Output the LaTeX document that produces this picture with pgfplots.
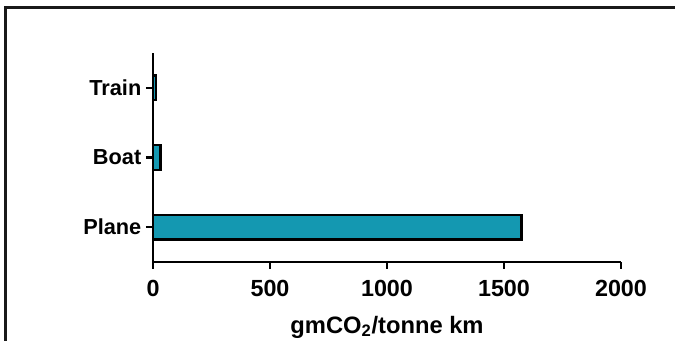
\documentclass[border=0pt]{standalone}
\usepackage{pgfplots}
\pgfplotsset{compat=1.18}
\usepackage{fontspec}
\setmainfont{Liberation Sans}
\definecolor{barteal}{RGB}{20,152,177}
\begin{document}
\begin{tikzpicture}
\path[use as bounding box] (0,0) rectangle (506.25pt,-255.75pt);
\draw[line width=2.2pt, color=black!90] (4.1pt,-260pt) -- (4.1pt,-5.6pt) -- (506.25pt,-5.6pt);
\begin{axis}[
  at={(114.75pt,-196.5pt)}, anchor=south west,
  scale only axis,
  width=351pt, height=156.75pt,
  xmin=0, xmax=2000, ymin=-0.5, ymax=2.5,
  axis x line=bottom, axis y line=left,
  axis line style={-, line width=1.9pt, black},
  xtick={0,500,1000,1500,2000},
  ytick={0,1,2},
  yticklabels={Plane,Boat,Train},
  tick align=outside,
  major tick length=5.25pt,
  tick style={line width=1.9pt, black},
  /pgf/number format/assume math mode=true,
  /pgf/number format/1000 sep={},
  scaled x ticks=false,
  xticklabel style={font=\bfseries\fontsize{17.5}{20}\selectfont, yshift=-5pt},
  yticklabel style={font=\bfseries\fontsize{16.3}{19}\selectfont},
  xlabel={gmCO\textsubscript{2}/tonne km},
  xlabel style={font=\bfseries\fontsize{17.8}{20}\selectfont, at={(axis description cs:0.5,0)}, anchor=base, yshift=-53.5pt},
  xbar, bar width=18.4pt,
  clip=false,
]
\addplot[fill=barteal, draw=black, line width=1.8pt] coordinates {(1575,0) (32,1) (14,2)};
\end{axis}
\end{tikzpicture}
\end{document}
